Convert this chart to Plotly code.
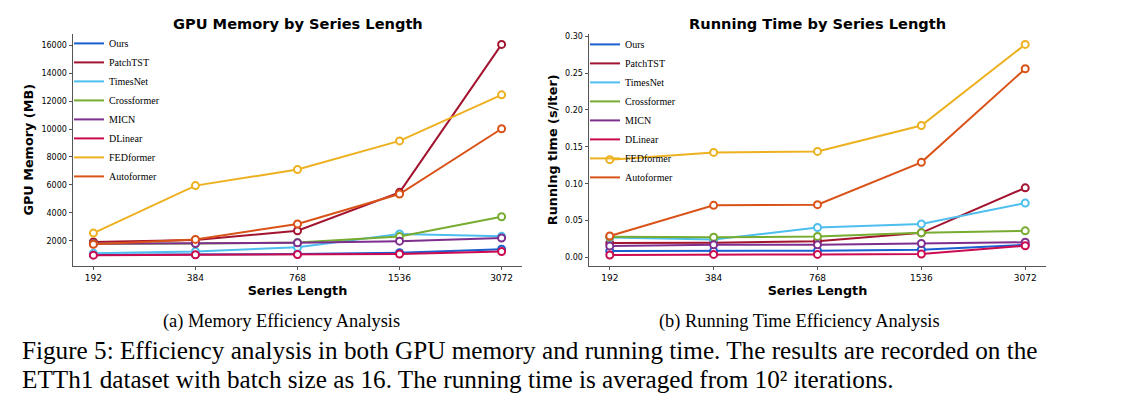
import plotly.graph_objects as go

series_length = ["192", "384", "768", "1536", "3072"]
models = ["Ours", "PatchTST", "TimesNet", "Crossformer", "MICN", "DLinear", "FEDformer", "Autoformer"]
colors = ["#1a5fcf", "#a2142f", "#4dbeee", "#77ac30", "#7e2f8e", "#cc0a50", "#edb120", "#d95319"]

mem_ours = [1000, 1020, 1050, 1150, 1400]
mem_patchtst = [1920, 2060, 2720, 5470, 16060]
mem_timesnet = [1100, 1230, 1540, 2490, 2320]
mem_crossformer = [1780, 1800, 1880, 2300, 3720]
mem_micn = [1780, 1800, 1850, 1970, 2200]
mem_dlinear = [970, 1000, 1010, 1050, 1230]
mem_fedformer = [2550, 5950, 7100, 9150, 12450]
mem_autoformer = [1750, 2100, 3200, 5350, 10020]

time_ours = [0.0086, 0.0086, 0.0090, 0.0104, 0.0170]
time_patchtst = [0.0194, 0.0200, 0.0220, 0.0333, 0.0944]
time_timesnet = [0.0270, 0.0243, 0.0405, 0.0454, 0.0737]
time_crossformer = [0.0279, 0.0273, 0.0283, 0.0333, 0.0360]
time_micn = [0.0153, 0.0170, 0.0170, 0.0189, 0.0205]
time_dlinear = [0.0032, 0.0040, 0.0040, 0.0045, 0.0158]
time_fedformer = [0.1326, 0.1424, 0.1438, 0.1790, 0.2890]
time_autoformer = [0.0290, 0.0706, 0.0715, 0.1290, 0.2560]

mem_data = [mem_ours, mem_patchtst, mem_timesnet, mem_crossformer, mem_micn, mem_dlinear, mem_fedformer, mem_autoformer]
time_data = [time_ours, time_patchtst, time_timesnet, time_crossformer, time_micn, time_dlinear, time_fedformer, time_autoformer]

# page body has an 8px margin; figure is sized to fit the 1124x404 window
OFF = 8
W, H = 1124 - OFF, 404 - OFF
def px(x):
    return (x - OFF) / W
def py(y):
    return 1 - (y - OFF) / H

fig = go.Figure()
for xa, ya, lg, data in (("x", "y", "legend", mem_data), ("x2", "y2", "legend2", time_data)):
    for name, col, vals in zip(models, colors, data):
        fig.add_trace(go.Scatter(
            x=series_length, y=vals, name=name, mode="lines+markers",
            line=dict(color=col, width=2),
            marker=dict(symbol="circle", size=7, color="white", line=dict(color=col, width=2)),
            xaxis=xa, yaxis=ya, legend=lg, legendgroup=lg + name, showlegend=False))
    # legend entries drawn as plain lines (as in the reference)
    for name, col in zip(models, colors):
        fig.add_trace(go.Scatter(
            x=[None], y=[None], name=name, mode="lines",
            line=dict(color=col, width=2),
            xaxis=xa, yaxis=ya, legend=lg, legendgroup=lg + name, showlegend=True,
            hoverinfo="skip"))

axis_common = dict(showline=True, linecolor="#555555", linewidth=1, ticks="outside",
                   ticklen=3.5, tickcolor="#555555", showgrid=False, zeroline=False,
                   tickfont=dict(family="DejaVu Sans", size=8, color="black"))
xcommon = dict(axis_common, type="category", range=[-0.2, 4.2],
               tickfont=dict(family="DejaVu Sans", size=9, color="black"))
title_font = dict(family="DejaVu Sans", size=12.8, color="black", weight="bold")

legend_common = dict(font=dict(family="Liberation Serif", size=10, color="black"),
                     bgcolor="rgba(0,0,0,0)", borderwidth=0, tracegroupgap=0,
                     xanchor="left", yanchor="top")

fig.update_layout(
    width=W, height=H, margin=dict(l=0, r=0, t=0, b=0),
    paper_bgcolor="white", plot_bgcolor="white",
    xaxis=dict(xcommon, domain=[px(73), px(522)], anchor="y",
               title=dict(text="Series Length", font=title_font, standoff=2)),
    yaxis=dict(axis_common, domain=[py(265), py(32)], anchor="x", range=[215, 16815],
               tickvals=[2000, 4000, 6000, 8000, 10000, 12000, 14000, 16000], tickformat="d",
               title=dict(text="GPU Memory (MB)", font=title_font, standoff=4)),
    xaxis2=dict(xcommon, domain=[px(589), px(1046)], anchor="y2",
                title=dict(text="Series Length", font=title_font, standoff=2)),
    yaxis2=dict(axis_common, domain=[py(265), py(32)], anchor="x2", range=[-0.0113, 0.3033],
                tickvals=[0, 0.05, 0.10, 0.15, 0.20, 0.25, 0.30], tickformat=".2f",
                title=dict(text="Running time (s/iter)", font=title_font, standoff=4)),
    legend=dict(legend_common, x=px(69), y=py(27)),
    legend2=dict(legend_common, x=px(585), y=py(28)),
    showlegend=True,
)

ann = []
tfont = dict(family="DejaVu Sans", size=14.6, color="black", weight="bold")
ann.append(dict(text="GPU Memory by Series Length", x=px(298), y=py(21.5), xref="paper", yref="paper",
                xanchor="center", yanchor="middle", showarrow=False, font=tfont))
ann.append(dict(text="Running Time by Series Length", x=px(817.5), y=py(21.5), xref="paper", yref="paper",
                xanchor="center", yanchor="middle", showarrow=False, font=tfont))
cap_font = dict(family="Liberation Serif", size=18.4, color="black")
ann.append(dict(text="(a) Memory Efficiency Analysis", x=px(281), y=py(321), xref="paper", yref="paper",
                xanchor="center", yanchor="middle", showarrow=False, font=cap_font))
ann.append(dict(text="(b) Running Time Efficiency Analysis", x=px(799), y=py(321), xref="paper", yref="paper",
                xanchor="center", yanchor="middle", showarrow=False, font=cap_font))
fig_font = dict(family="Liberation Serif", size=25.2, color="black")
ann.append(dict(text="Figure 5: Efficiency analysis in both GPU memory and running time. The results are recorded on the",
                x=px(20), y=py(350), xref="paper", yref="paper", xanchor="left", yanchor="middle",
                showarrow=False, font=fig_font))
ann.append(dict(text="ETTh1 dataset with batch size as 16. The running time is averaged from 10\u00b2 iterations.",
                x=px(20), y=py(379.5), xref="paper", yref="paper", xanchor="left", yanchor="middle",
                showarrow=False, font=fig_font))
fig.update_layout(annotations=ann)

fig.write_html("out.html")
